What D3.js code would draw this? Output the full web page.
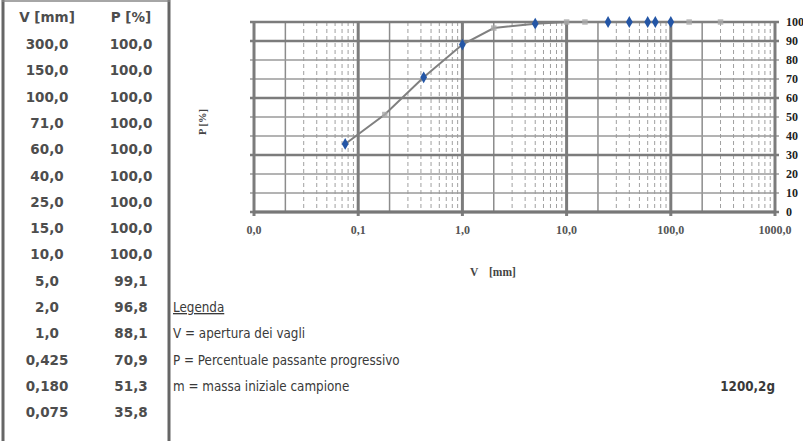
<!DOCTYPE html>
<html>
<head>
<meta charset="utf-8">
<script src="https://cdn.jsdelivr.net/npm/d3@7"></script>
<style>
  body { margin: 0; background: #fff; }
  svg { display: block; }
</style>
</head>
<body>
<svg width="803" height="441"></svg>
<script>
// sieve table (apertura vagli / passante)
var sieveMm = [300, 150, 100, 71, 60, 40, 25, 15, 10, 5, 2, 1, 0.425, 0.180, 0.075];
var sieveLabels = ["300,0", "150,0", "100,0", "71,0", "60,0", "40,0", "25,0", "15,0", "10,0", "5,0", "2,0", "1,0", "0,425", "0,180", "0,075"];
var passingPct = [100, 100, 100, 100, 100, 100, 100, 100, 100, 99.1, 96.8, 88.1, 70.9, 51.3, 35.8];
var passingLabels = ["100,0", "100,0", "100,0", "100,0", "100,0", "100,0", "100,0", "100,0", "100,0", "99,1", "96,8", "88,1", "70,9", "51,3", "35,8"];
// b = blue marker, g = grey marker
var markerKind = ["g", "g", "b", "b", "b", "b", "b", "g", "g", "b", "g", "b", "b", "g", "b"];

var xTicks = [0.01, 0.1, 1, 10, 100, 1000];
var xTickLabels = ["0,0", "0,1", "1,0", "10,0", "100,0", "1000,0"];
var yTicks = [0, 10, 20, 30, 40, 50, 60, 70, 80, 90, 100];

var legendLines = ["V = apertura dei vagli", "P = Percentuale passante progressivo", "m = massa iniziale campione"];
var massLabel = "1200,2g";

var svg = d3.select("svg");

// ---- table ----
var rowY = function(i) { return 49 + i * 26.3; };
var tbl = svg.append("g").attr("class", "table")
  .style("font-family", "DejaVu Sans")
  .style("font-weight", "bold")
  .style("font-size", "13.5px")
  .style("fill", "#4d4d4d");

tbl.append("line").attr("x1", 3).attr("x2", 3).attr("y1", 0).attr("y2", 441)
  .attr("stroke", "#666").attr("stroke-width", 3);
tbl.append("line").attr("x1", 169).attr("x2", 169).attr("y1", 0).attr("y2", 441)
  .attr("stroke", "#666").attr("stroke-width", 3);
tbl.append("line").attr("x1", 2).attr("x2", 170).attr("y1", 1).attr("y2", 1)
  .attr("stroke", "#888").attr("stroke-width", 1.5);

tbl.append("text").attr("x", 47).attr("y", 22).attr("text-anchor", "middle").text("V [mm]");
tbl.append("text").attr("x", 131).attr("y", 22).attr("text-anchor", "middle").text("P [%]");

tbl.selectAll("text.v").data(sieveLabels).enter().append("text")
  .attr("class", "v")
  .attr("x", 47)
  .attr("y", function(d, i) { return rowY(i); })
  .attr("text-anchor", "middle")
  .text(function(d) { return d; });

tbl.selectAll("text.p").data(passingLabels).enter().append("text")
  .attr("class", "p")
  .attr("x", 131)
  .attr("y", function(d, i) { return rowY(i); })
  .attr("text-anchor", "middle")
  .text(function(d) { return d; });

// ---- legend ----
var leg = svg.append("g")
  .style("font-family", "DejaVu Sans Condensed")
  .style("font-size", "13.3px")
  .style("fill", "#3a3a3a");
leg.append("text").attr("x", 173).attr("y", rowY(10))
  .style("text-decoration", "underline")
  .text("Legenda");
leg.selectAll("text.l").data(legendLines).enter().append("text")
  .attr("class", "l")
  .attr("x", 173)
  .attr("y", function(d, i) { return rowY(11 + i); })
  .text(function(d) { return d; });
leg.append("text").attr("x", 775).attr("y", rowY(13))
  .attr("text-anchor", "end").style("font-weight", "bold")
  .text(massLabel);

// ---- chart ----
var x = d3.scaleLog().domain([0.01, 1000]).range([254, 775]);
var y = d3.scaleLinear().domain([0, 100]).range([212, 22]);

var grid = svg.append("g").attr("class", "grid");

// minor vertical lines
var minors = [];
xTicks.slice(0, -1).forEach(function(t) {
  for (var k = 2; k <= 9; k++) minors.push({v: t * k, k: k});
});
grid.selectAll("line.minor").data(minors).enter().append("line")
  .attr("x1", function(d) { return x(d.v); })
  .attr("x2", function(d) { return x(d.v); })
  .attr("y1", y(100)).attr("y2", y(0))
  .attr("stroke", function(d) { return d.k == 2 ? "#8c8c8c" : "#a0a0a0"; })
  .attr("stroke-width", function(d) { return d.k == 2 ? 1.5 : 1; })
  .attr("stroke-dasharray", function(d) { return d.k == 2 ? null : "4,3"; });

// horizontal lines
grid.selectAll("line.h").data(yTicks).enter().append("line")
  .attr("x1", x(0.01) - 4).attr("x2", x(1000) + 4)
  .attr("y1", function(d) { return y(d); })
  .attr("y2", function(d) { return y(d); })
  .attr("stroke", function(d) { return d % 30 == 0 || d == 100 ? "#7c7c7c" : "#9a9a9a"; })
  .attr("stroke-width", function(d) { return d % 30 == 0 || d == 100 ? 2.5 : 1.6; });

// decade lines
grid.selectAll("line.dec").data(xTicks).enter().append("line")
  .attr("x1", function(d) { return x(d); })
  .attr("x2", function(d) { return x(d); })
  .attr("y1", y(100)).attr("y2", y(0) + 4)
  .attr("stroke", "#7c7c7c")
  .attr("stroke-width", 3);

// x axis line
grid.append("line").attr("x1", x(0.01) - 1).attr("x2", x(1000) + 1)
  .attr("y1", y(0)).attr("y2", y(0))
  .attr("stroke", "#777").attr("stroke-width", 3);

// tick labels
svg.append("g")
  .style("font-family", "Liberation Serif").style("font-weight", "bold")
  .style("font-size", "12px").style("fill", "#555")
  .selectAll("text").data(xTicks).enter().append("text")
  .attr("x", function(d) { return x(d); })
  .attr("y", 234)
  .attr("text-anchor", "middle")
  .text(function(d, i) { return xTickLabels[i]; });

svg.append("g")
  .style("font-family", "Liberation Serif").style("font-weight", "bold")
  .style("font-size", "12px").style("fill", "#222")
  .selectAll("text").data(yTicks).enter().append("text")
  .attr("x", 786)
  .attr("y", function(d) { return y(d) + 4; })
  .text(function(d) { return d; });

// axis titles
svg.append("text")
  .attr("transform", "translate(206,122) rotate(-90)")
  .attr("text-anchor", "middle")
  .style("font-family", "Liberation Serif").style("font-weight", "bold")
  .style("font-size", "10.5px").style("fill", "#444")
  .text("P [%]");
var xt = svg.append("g")
  .style("font-family", "Liberation Serif").style("font-weight", "bold")
  .style("font-size", "11.5px").style("fill", "#444");
xt.append("text").attr("x", 470).attr("y", 276).text("V");
xt.append("text").attr("x", 489).attr("y", 276).text("[mm]");

// ---- curve ----
var pts = sieveMm.map(function(v, i) { return {v: v, p: passingPct[i], kind: markerKind[i]}; });

var line = d3.line()
  .x(function(d) { return x(d.v); })
  .y(function(d) { return y(d.p); });

svg.append("path")
  .datum(pts)
  .attr("d", line)
  .attr("fill", "none")
  .attr("stroke", "#808080")
  .attr("stroke-width", 2);

svg.selectAll("path.mk").data(pts).enter().append("path")
  .attr("class", "mk")
  .attr("transform", function(d) { return "translate(" + x(d.v) + "," + y(d.p) + ")"; })
  .attr("d", function(d) {
    return d.kind == "b" ? d3.symbol().type(d3.symbolDiamond).size(40)() : d3.symbol().type(d3.symbolSquare).size(30)();
  })
  .attr("fill", function(d) { return d.kind == "b" ? "#2456a6" : "#a9a9a9"; })
  .attr("opacity", function(d) { return d.kind == "b" ? 1 : 0.8; });
</script>
</body>
</html>
